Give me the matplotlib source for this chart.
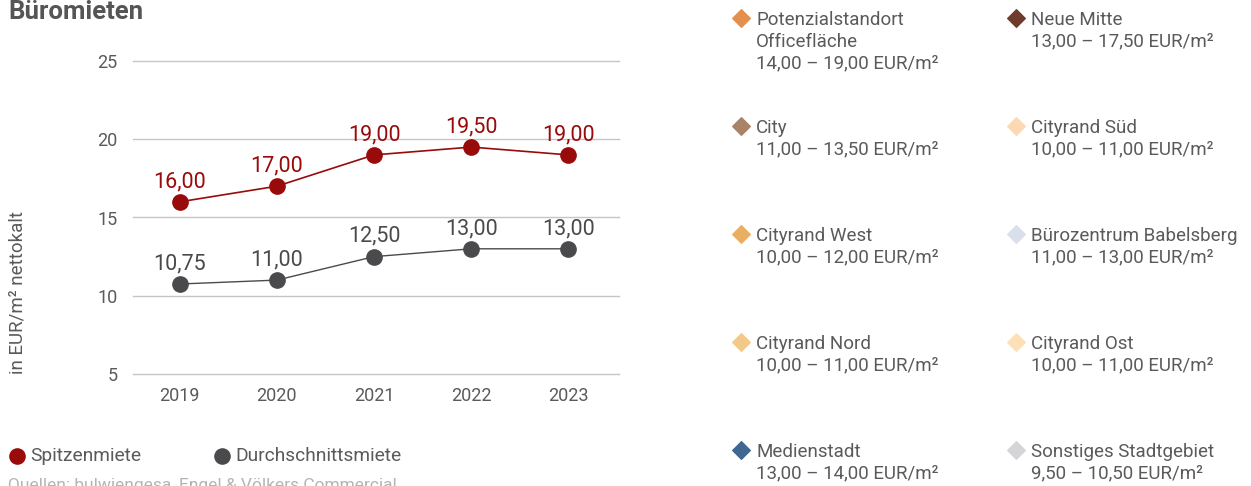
import matplotlib.pyplot as plt

plt.rcParams["font.family"] = ["Roboto", "DejaVu Sans"]

# chart data
years = ["2019", "2020", "2021", "2022", "2023"]
spitzenmiete = [16.00, 17.00, 19.00, 19.50, 19.00]
durchschnittsmiete = [10.75, 11.00, 12.50, 13.00, 13.00]
y_ticks = [5, 10, 15, 20, 25]

# location legend (right side)
areas = [
    "Potenzialstandort\nOfficefläche", "Neue Mitte",
    "City", "Cityrand Süd",
    "Cityrand West", "Bürozentrum Babelsberg",
    "Cityrand Nord", "Cityrand Ost",
    "Medienstadt", "Sonstiges Stadtgebiet",
]
ranges = [
    "14,00 – 19,00 EUR/m²", "13,00 – 17,50 EUR/m²",
    "11,00 – 13,50 EUR/m²", "10,00 – 11,00 EUR/m²",
    "10,00 – 12,00 EUR/m²", "11,00 – 13,00 EUR/m²",
    "10,00 – 11,00 EUR/m²", "10,00 – 11,00 EUR/m²",
    "13,00 – 14,00 EUR/m²", "9,50 – 10,50 EUR/m²",
]
area_colors = [
    "#e38f4e", "#6f3b2c",
    "#a98268", "#fdd8b2",
    "#e9ae62", "#d9dfeb",
    "#f3c98b", "#fde0b6",
    "#3f6890", "#d5d5d7",
]

RED = "#990a0a"
DARK = "#4a4a4c"
TEXT = "#5a5a5a"
W, H = 1251, 486

fig = plt.figure(figsize=(W / 100, H / 100), dpi=100)
ax = fig.add_axes((133 / W, 1 - 374 / H, 486 / W, 313 / H))

x = range(len(years))
ax.plot(x, spitzenmiete, color=RED, lw=1.2, marker="o", ms=11, zorder=3)
ax.plot(x, durchschnittsmiete, color=DARK, lw=1.0, marker="o", ms=11, zorder=3)
for xi, v in zip(x, spitzenmiete):
    ax.annotate(f"{v:.2f}".replace(".", ","), (xi, v), xytext=(0, 7),
                textcoords="offset points", ha="center", va="bottom",
                color=RED, fontsize=15.5)
for xi, v in zip(x, durchschnittsmiete):
    ax.annotate(f"{v:.2f}".replace(".", ","), (xi, v), xytext=(0, 7),
                textcoords="offset points", ha="center", va="bottom",
                color=DARK, fontsize=15.5)

ax.set_xlim(-0.48, 4.52)
ax.set_ylim(5, 25)
ax.set_yticks(y_ticks)
ax.set_xticks(list(x))
ax.set_xticklabels(years)
ax.yaxis.grid(True, color="#c6c6c6", lw=1)
for gl in ax.get_ygridlines():
    gl.set_clip_on(False)
ax.set_axisbelow(True)
for s in ax.spines.values():
    s.set_visible(False)
ax.tick_params(length=0, labelsize=13, colors=TEXT)
ax.tick_params(axis="x", pad=9)
ax.tick_params(axis="y", pad=11)

fig.text(8 / W, 1 - 12 / H, "Büromieten", fontsize=18.5, fontweight="bold",
         color="#555555", va="center", ha="left")
fig.text(18 / W, 1 - 292 / H, "in EUR/m² nettokalt", rotation=90,
         fontsize=13.5, color=TEXT, va="center", ha="center")

# series legend
lax = fig.add_axes((0, 0, 1, 1), zorder=-1)
lax.set_xlim(0, W)
lax.set_ylim(H, 0)
lax.axis("off")
for px, label, col in [(17, "Spitzenmiete", RED), (222, "Durchschnittsmiete", DARK)]:
    lax.scatter([px], [456], s=120, color=col)
    lax.text(px + 13, 456, label, fontsize=13.8, color=TEXT, va="center")
lax.text(8, 478, "Quellen: bulwiengesa, Engel & Völkers Commercial",
         fontsize=12.5, color="#b4b4b4", va="top")

# location legend
for i, (name, rng, col) in enumerate(zip(areas, ranges, area_colors)):
    px = 741 if i % 2 == 0 else 1016
    py = 18 + 108 * (i // 2)
    lax.scatter([px], [py], s=80, marker="D", color=col)
    lax.text(px + 15, py - 7, name + "\n" + rng, fontsize=13.5, color=TEXT,
             va="top", linespacing=1.27)

fig.savefig("out.png", dpi=100)
